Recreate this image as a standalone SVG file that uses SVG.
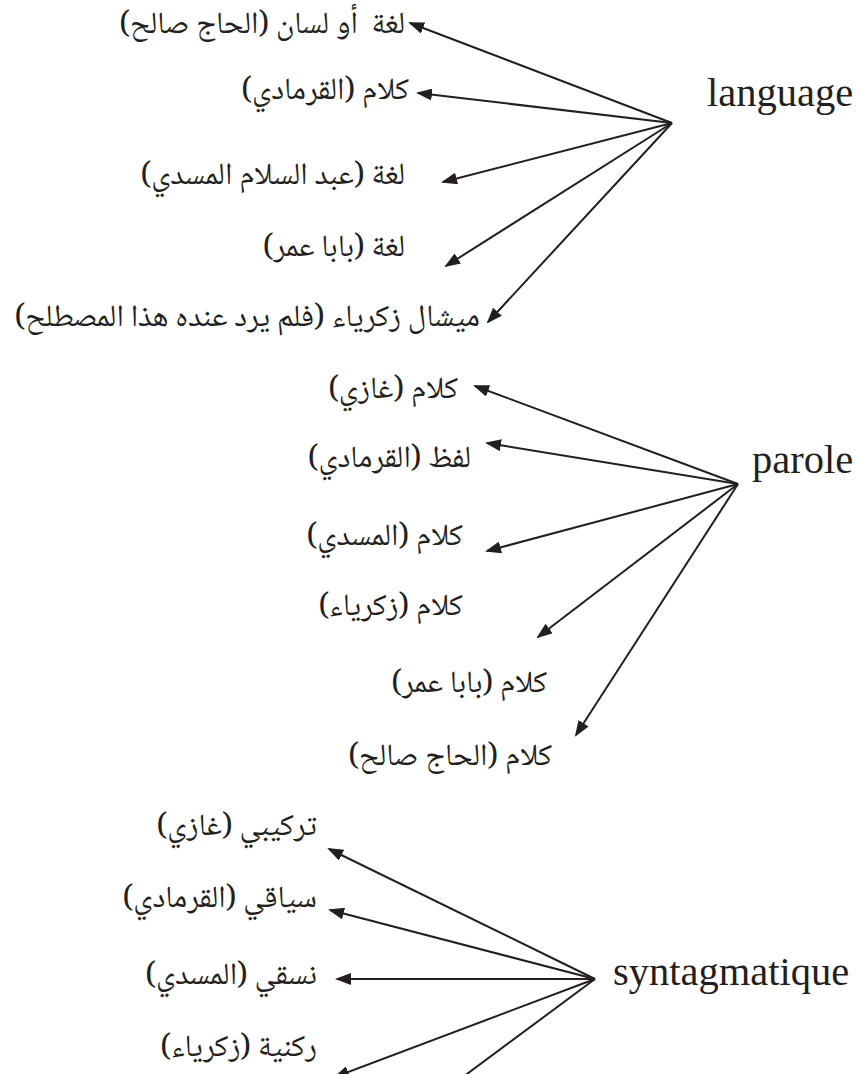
<svg xmlns="http://www.w3.org/2000/svg" width="858" height="1074" viewBox="0 0 858 1074">
<style>
.ar{font-family:"Noto Naskh Arabic","Noto Sans Arabic","DejaVu Sans",sans-serif;font-size:31px;fill:#231f20;direction:rtl;text-anchor:start;white-space:pre}
.en{font-family:"Liberation Serif",serif;font-size:40.5px;fill:#231f20}
.c line{stroke:#231f20;stroke-width:2;fill:none;marker-end:url(#ah)}
</style>
<defs>
<marker id="ah" viewBox="0 0 16 12" refX="14" refY="6" markerWidth="16" markerHeight="12" markerUnits="userSpaceOnUse" orient="auto">
<path d="M0,0 L16,6 L0,12 z" fill="#231f20"/>
</marker>
</defs>
<rect width="858" height="1074" fill="#fff"/>
<g id="n-language"><text class="en" x="707" y="106">language</text></g>
<g id="n-parole"><text class="en" x="752" y="473">parole</text></g>
<g id="n-syntagmatique"><text class="en" x="613" y="985">syntagmatique</text></g>
<g id="l1"><text class="ar" x="405" y="33" xml:space="preserve">لغة  أو لسان (الحاج صالح)</text></g>
<g id="l2"><text class="ar" x="409" y="99">كلام (القرمادي)</text></g>
<g id="l3"><text class="ar" x="405" y="184">لغة (عبد السلام المسدي)</text></g>
<g id="l4"><text class="ar" x="405" y="256">لغة (بابا عمر)</text></g>
<g id="l5"><text class="ar" x="480" y="326">ميشال زكرياء (فلم يرد عنده هذا المصطلح)</text></g>
<g id="p1"><text class="ar" x="458" y="398">كلام (غازي)</text></g>
<g id="p2"><text class="ar" x="471" y="467">لفظ (القرمادي)</text></g>
<g id="p3"><text class="ar" x="463" y="545">كلام (المسدي)</text></g>
<g id="p4"><text class="ar" x="463" y="615">كلام (زكرياء)</text></g>
<g id="p5"><text class="ar" x="547" y="692">كلام (بابا عمر)</text></g>
<g id="p6"><text class="ar" x="552" y="765">كلام (الحاج صالح)</text></g>
<g id="s1"><text class="ar" x="317" y="835">تركيبي (غازي)</text></g>
<g id="s2"><text class="ar" x="317" y="907">سياقي (القرمادي)</text></g>
<g id="s3"><text class="ar" x="317" y="984">نسقي (المسدي)</text></g>
<g id="s4"><text class="ar" x="317" y="1056">ركنية (زكرياء)</text></g>
<g id="connectors" class="c">
<line x1="672" y1="123" x2="410" y2="23"/>
<line x1="672" y1="123" x2="418" y2="93"/>
<line x1="672" y1="123" x2="443" y2="182"/>
<line x1="672" y1="123" x2="446" y2="266"/>
<line x1="672" y1="123" x2="488" y2="322"/>
<line x1="738" y1="484" x2="475" y2="386"/>
<line x1="738" y1="484" x2="487" y2="443"/>
<line x1="738" y1="484" x2="487" y2="551"/>
<line x1="738" y1="484" x2="538" y2="637"/>
<line x1="738" y1="484" x2="576" y2="735"/>
<line x1="595" y1="979" x2="329" y2="849"/>
<line x1="595" y1="979" x2="330" y2="910"/>
<line x1="595" y1="979" x2="337" y2="979"/>
<line x1="595" y1="979" x2="335" y2="1077"/>
<line x1="595" y1="979" x2="440" y2="1094"/>
</g>
</svg>
